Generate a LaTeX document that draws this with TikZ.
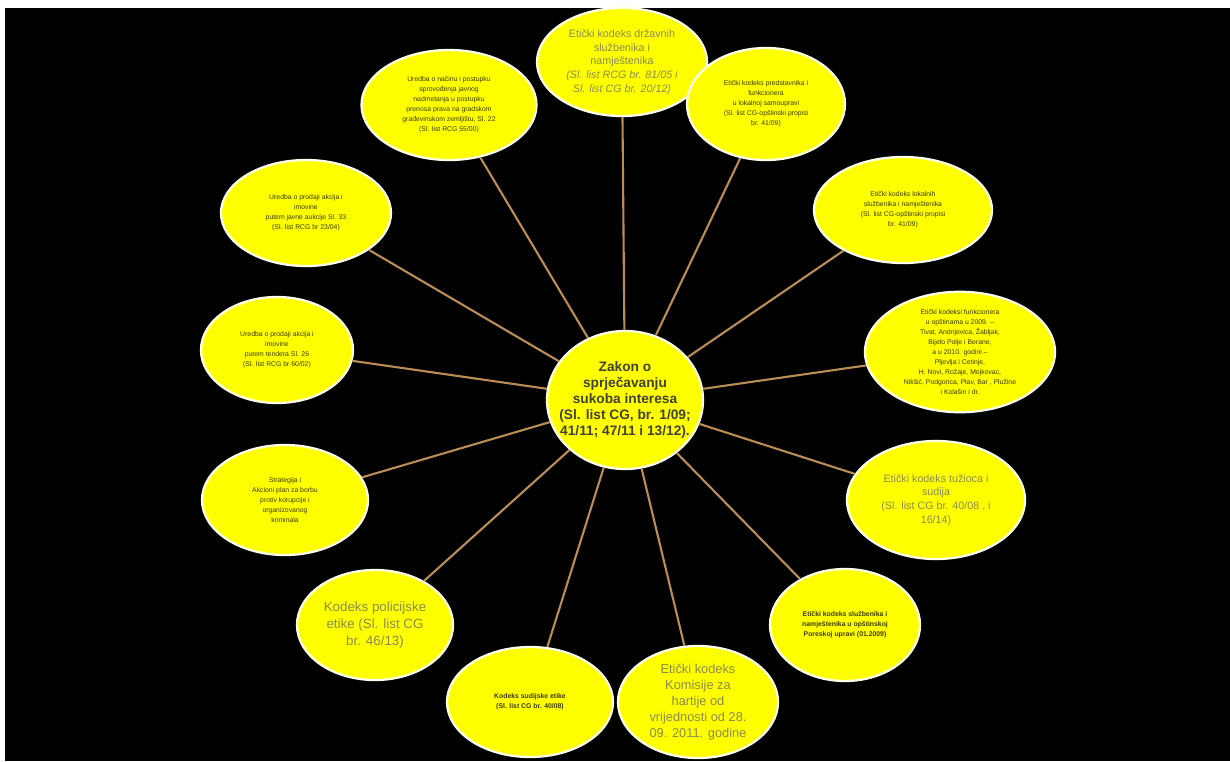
\documentclass[tikz,border=0pt]{standalone}
\usepackage{fontspec}
\setmainfont{Liberation Sans}
\usetikzlibrary{shapes.geometric}
\definecolor{ylw}{HTML}{FFFF00}
\definecolor{rim}{HTML}{FFFFE8}
\definecolor{link}{HTML}{B98D55}
\definecolor{dtxt}{HTML}{3A3A00}
\definecolor{gtxt}{HTML}{8A8A50}
\tikzset{
  bub/.style 2 args={ellipse, fill=ylw, draw=rim, line width=1.3pt,
    minimum width=#1*0.02cm, minimum height=#2*0.02cm, inner sep=0pt,
    align=center, text=dtxt},
  tiny/.style={font=\fontsize{3.9}{5.7}\selectfont},
  mid/.style={font=\fontsize{6.1}{7.8}\selectfont, text=gtxt},
  big/.style={font=\fontsize{7.6}{9.6}\selectfont, text=gtxt},
  link/.style={draw=link, line width=1.2pt}
}
\begin{document}
\begin{tikzpicture}[x=0.02cm,y=-0.02cm]
\useasboundingbox (0,0) rectangle (1230,761);
\fill[white] (0,0) rectangle (1230,761);
\fill[black] (5,8) rectangle (1230,761);

\node[bub={156}{138}, inner xsep=-10pt, font=\bfseries\fontsize{7.8}{9}\selectfont, text=black!85!yellow] (c) at (625,400)
 {Zakon o\\sprječavanju\\sukoba interesa\\(Sl. list CG, br. 1/09;\\41/11; 47/11 i 13/12).};

\node[bub={170}{108}, mid] (n1) at (622,62)
 {Etički kodeks državnih\\službenika i\\namještenika\\\itshape (Sl. list RCG br. 81/05 i\\\itshape Sl. list CG br. 20/12)};
\node[bub={175}{110}, tiny] (n2) at (449,105)
 {Uredba o načinu i postupku\\sprovođenja javnog\\nadmetanja u postupku\\prenosa prava na gradskom\\građevinskom zemljištu, Sl. 22\\(Sl. list RCG 55/00)};
\node[bub={158}{112}, tiny] (n3) at (766,104)
 {Etički kodeks predstavnika i\\funkcionera\\u lokalnoj samoupravi\\(Sl. list CG-opštinski propisi\\br. 41/09)};
\node[bub={170}{106}, tiny] (n4) at (306,213)
 {Uredba o prodaji akcija i\\imovine\\putem javne aukcije Sl. 33\\(Sl. list RCG br 23/04)};
\node[bub={178}{106}, tiny] (n5) at (903,210)
 {Etički kodeks lokalnih\\službenika i namještenika\\(Sl. list CG-opštinski propisi\\br. 41/09)};
\node[bub={152}{106}, tiny] (n6) at (277,350)
 {Uredba o prodaji akcija i\\imovine\\putem tendera Sl. 26\\(Sl. list RCG br 60/02)};
\node[bub={190}{118}, tiny] (n7) at (960,352)
 {Etički kodeksi funkcionera\\u opštinama u 2009. –\\Tivat, Andrijevica, Žabljak,\\Bijelo Polje i Berane,\\a u 2010. godini –\\Pljevlja i Cetinje,\\H. Novi, Rožaje, Mojkovac,\\Nikšić, Podgorica, Plav, Bar , Plužine\\i Kolašin i dr.};
\node[bub={166}{110}, tiny] (n9) at (285,500)
 {Strategija i\\Akcioni plan za borbu\\protiv korupcije i\\organizovanog\\kriminala};
\node[bub={178}{118}, mid] (n10) at (936,500)
 {Etički kodeks tužioca i\\sudija\\(Sl. list CG br. 40/08 , i\\16/14)};
\node[bub={156}{110}, big] (n11) at (375,625)
 {Kodeks policijske\\etike (Sl. list CG\\br. 46/13)};
\node[bub={166}{110}, tiny, font=\bfseries\fontsize{3.9}{5.7}\selectfont] (n12) at (530,702)
 {Kodeks sudijske etike\\(Sl. list CG br. 40/08)};
\node[bub={160}{112}, big, font=\fontsize{7.3}{9.2}\selectfont] (n13) at (698,702)
 {Etički kodeks\\Komisije za\\hartije od\\vrijednosti od 28.\\09. 2011. godine};
\node[bub={150}{112}, tiny, font=\bfseries\fontsize{3.9}{5.7}\selectfont] (n14) at (845,625)
 {Etički kodeks službenika i\\namještenika u opštinskoj\\Poreskoj upravi (01.2009)};

\foreach \n in {n1,n2,n3,n4,n5,n6,n7,n9,n10,n11,n12,n13,n14}
  \draw[link] (c) -- (\n);
\end{tikzpicture}
\end{document}
